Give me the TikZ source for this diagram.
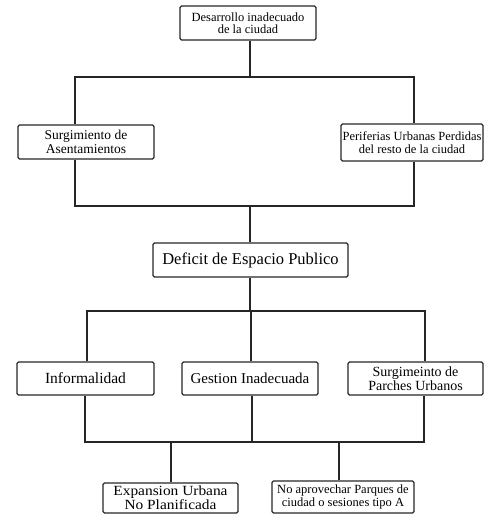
\documentclass[tikz,border=0pt]{standalone}
\usepackage{fontspec}
\setmainfont{Liberation Serif}
\begin{document}
\begin{tikzpicture}[x=1pt,y=-1pt,
  box/.style={draw=black!85,line width=1.3pt,rounded corners=1.5pt,align=center,inner sep=1pt,minimum height=#1},
  box/.default=34pt,
  conn/.style={draw=black!85,line width=1.2pt},
  fs/.style={font=\fontsize{#1}{#1}\selectfont},
  wide/.style={font=\fontsize{#1}{#1}\selectfont\addfontfeature{FakeStretch=1.1}}]
\useasboundingbox (0,0) rectangle (484,516);
\node[box,minimum width=136pt,fs=12.5] (top) at (248,23) {Desarrollo inadecuado\\de la ciudad};
\node[box,minimum width=136pt,fs=13.5] (sa) at (86,142) {Surgimiento de\\Asentamientos};
\node[box=37pt,minimum width=142pt,fs=12.5] (per) at (412,142.5) {Periferias Urbanas Perdidas\\del resto de la ciudad};
\node[box,minimum width=195pt,fs=16.5] (def) at (250.5,260) {Deficit de Espacio Publico};
\node[box=33pt,minimum width=137pt,fs=15.5] (inf) at (85.5,378.5) {Informalidad};
\node[box=33pt,minimum width=136pt,fs=15] (ges) at (250,378.5) {Gestion Inadecuada};
\node[box=33pt,minimum width=135pt,fs=14] (par) at (415.5,378.5) {Surgimeinto de\\Parches Urbanos};
\node[box=30pt,minimum width=135pt,wide=14] (exp) at (170.5,498) {Expansion Urbana\\No Planificada};
\node[box=32pt,minimum width=142pt,fs=12.5] (noa) at (343,497) {No aprovechar Parques de\\ciudad o sesiones tipo A};
% junction coordinates
\coordinate (a1) at (250,77);
\coordinate (a1l) at (75,77);
\coordinate (a1r) at (414,77);
\coordinate (a2) at (250,206);
\coordinate (a2l) at (75,206);
\coordinate (a2r) at (414,206);
\coordinate (a3) at (250,311);
\coordinate (a3l) at (87,311);
\coordinate (a3r) at (425,311);
\coordinate (a4) at (252,442);
\coordinate (a4l) at (85,442);
\coordinate (a4r) at (424,442);
\coordinate (b1) at (171,442);
\coordinate (b2) at (339,442);
% level 1
\draw[conn] (top.south -| a1) -- (a1);
\draw[conn] (a1l |- sa.north) -- (a1l) -- (a1r) -- (a1r |- per.north);
% level 2
\draw[conn] (a2l |- sa.south) -- (a2l) -- (a2r) -- (a2r |- per.south);
\draw[conn] (a2) -- (a2 |- def.north);
% level 3
\draw[conn] (a3 |- def.south) -- (a3);
\draw[conn] (a3l |- inf.north) -- (a3l) -- (a3r) -- (a3r |- par.north);
\draw[conn] (ges.north -| 251,0) -- (251,311);
% level 4
\draw[conn] (a4l |- inf.south) -- (a4l) -- (a4r) -- (a4r |- par.south);
\draw[conn] (a4 |- ges.south) -- (a4);
\draw[conn] (b1) -- (b1 |- exp.north);
\draw[conn] (b2) -- (b2 |- noa.north);
\end{tikzpicture}
\end{document}
